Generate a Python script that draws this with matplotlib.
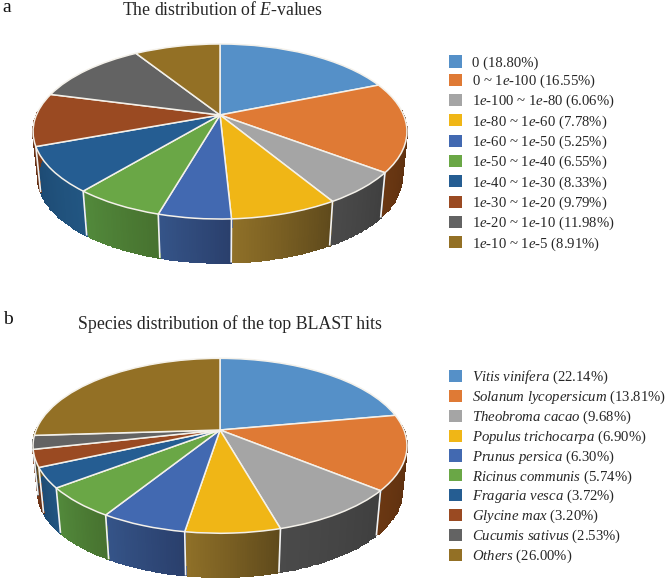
"""Two perspective 3D pie charts: E-value and species distribution of BLAST hits."""

import numpy as np
import matplotlib
matplotlib.use("Agg")
import matplotlib.pyplot as plt
from matplotlib.patches import Patch
from matplotlib.transforms import Transform

plt.rcParams['font.family'] = ['Liberation Serif', 'DejaVu Serif']
plt.rcParams['mathtext.fontset'] = 'custom'
plt.rcParams['mathtext.rm'] = 'Liberation Serif'
plt.rcParams['mathtext.it'] = 'Liberation Serif:italic'

evalue_labels = ['0', r'0 ~ 1$\mathit{e}$-100', r'1$\mathit{e}$-100 ~ 1$\mathit{e}$-80',
                 r'1$\mathit{e}$-80 ~ 1$\mathit{e}$-60', r'1$\mathit{e}$-60 ~ 1$\mathit{e}$-50',
                 r'1$\mathit{e}$-50 ~ 1$\mathit{e}$-40', r'1$\mathit{e}$-40 ~ 1$\mathit{e}$-30',
                 r'1$\mathit{e}$-30 ~ 1$\mathit{e}$-20', r'1$\mathit{e}$-20 ~ 1$\mathit{e}$-10',
                 r'1$\mathit{e}$-10 ~ 1$\mathit{e}$-5']
evalue_values = [18.80, 16.55, 6.06, 7.78, 5.25, 6.55, 8.33, 9.79, 11.98, 8.91]

species_labels = [r'$\mathit{Vitis\ vinifera}$', r'$\mathit{Solanum\ lycopersicum}$',
                  r'$\mathit{Theobroma\ cacao}$', r'$\mathit{Populus\ trichocarpa}$',
                  r'$\mathit{Prunus\ persica}$', r'$\mathit{Ricinus\ communis}$',
                  r'$\mathit{Fragaria\ vesca}$', r'$\mathit{Glycine\ max}$',
                  r'$\mathit{Cucumis\ sativus}$', r'$\mathit{Others}$']
species_values = [22.14, 13.81, 9.68, 6.90, 6.30, 5.74, 3.72, 3.20, 2.53, 26.00]

top_colors = ['#5590c8', '#df7a35', '#a5a5a5', '#f0b616', '#4269b1',
              '#6aa746', '#255d92', '#9a4a22', '#636363', '#937025']
wall_left = ['#3a6690', '#6a3712', '#4a4a4a', '#8f7028', '#355488',
             '#52893b', '#1d4a73', '#7a3a1a', '#404040', '#6a5220']
wall_right = ['#3a6690', '#552c0e', '#3f3f3f', '#5f4a1c', '#2a3f6c',
              '#47722f', '#225682', '#5e2e15', '#404040', '#6a5220']

# shrink of the lower rim towards the vanishing point below the pie
RIM_SHRINK = 0.974
VANISH_DROP = 1785


class PiePerspective(Transform):
    """Unit circle (y up) to figure pixels, far side squeezed."""
    input_dims = 2
    output_dims = 2

    def __init__(self, cx, cy, rx, ry, persp):
        super().__init__()
        self.cx, self.cy, self.rx, self.ry, self.persp = cx, cy, rx, ry, persp

    def transform_non_affine(self, values):
        x, y = values[:, 0], values[:, 1]
        w = 1 + self.persp * y
        return np.column_stack([self.cx + self.rx * x / w, self.cy - self.ry * y / w])


def draw_pie(ax, values, cx, cy, rx, ry, persp):
    proj = PiePerspective(cx, cy, rx, ry, persp)
    vanish_y = cy + VANISH_DROP
    fractions = np.array(values) / np.sum(values)
    edges = np.concatenate([[0], np.cumsum(fractions)]) * 2 * np.pi

    def rims(t):
        top = proj.transform_non_affine(np.column_stack([np.sin(t), np.cos(t)]))
        low = top.copy()
        low[:, 0] = cx + RIM_SHRINK * (top[:, 0] - cx)
        low[:, 1] = vanish_y + RIM_SHRINK * (top[:, 1] - vanish_y)
        return top, low

    # side walls, only the front part shows
    for i in range(len(values)):
        t = np.linspace(edges[i], edges[i + 1], 40)
        t = t[np.cos(t) < 0.05]
        if len(t) < 2:
            continue
        top, low = rims(t)
        X = np.vstack([top[:, 0], low[:, 0]])
        Y = np.vstack([top[:, 1], low[:, 1]])
        c0 = np.array(matplotlib.colors.to_rgb(wall_left[i]))
        c1 = np.array(matplotlib.colors.to_rgb(wall_right[i]))
        mix = np.linspace(0, 1, len(t) - 1)[:, None]
        # t runs right to left along the front, so the left colour comes last
        rgb = (c1 * (1 - mix) + c0 * mix)[None, :, :]
        ax.pcolormesh(X, Y, rgb, shading='flat', edgecolors='face', linewidth=0.3, zorder=2)

    # white seams on the walls
    for e in edges[1:-1]:
        if np.cos(e) < -persp:
            top, low = rims(np.array([e]))
            ax.plot([top[0, 0], low[0, 0]], [top[0, 1], low[0, 1]], color='#f2f2f2',
                    lw=1.2, zorder=2.5, solid_capstyle='butt')

    wedges, _ = ax.pie(values, colors=top_colors, startangle=90, counterclock=False,
                       normalize=True, wedgeprops=dict(edgecolor='#f4f1ea', linewidth=1.1))
    for w in wedges:
        w.set_transform(proj + ax.transData)
        w.set_zorder(3)
        w.set_clip_on(False)


def draw_legend(fig, labels, values, top_y, spacing):
    handles = [Patch(facecolor=c, edgecolor='none') for c in top_colors]
    texts = [f'{l} ({v:.2f}%)' for l, v in zip(labels, values)]
    fig.legend(handles, texts, loc='upper left', bbox_to_anchor=(449 / 666, 1 - top_y / 579),
               frameon=False, borderpad=0, borderaxespad=0, fontsize=10.65,
               handlelength=0.88, handleheight=0.88, handletextpad=0.68,
               labelspacing=spacing, labelcolor='#262626')


fig = plt.figure(figsize=(6.66, 5.79), dpi=100)
ax = fig.add_axes([0, 0, 1, 1])

draw_pie(ax, evalue_values, 220, 115, 183.6, 84.4, 0.1886)
draw_pie(ax, species_values, 220, 430, 183.9, 84.6, 0.1807)

ax.set_aspect('auto')
ax.set_xlim(0, 666)
ax.set_ylim(579, 0)
ax.axis('off')

ax.text(222, 10, r'The distribution of $\mathit{E}$-values', ha='center', va='center',
        fontsize=12.8, color='#262626')
ax.text(230, 324, 'Species distribution of the top BLAST hits', ha='center', va='center',
        fontsize=12.8, color='#262626')
ax.text(2, 7, 'a', ha='left', va='center', fontsize=14, color='#111111')
ax.text(3, 320, 'b', ha='left', va='center', fontsize=14, color='#111111')

draw_legend(fig, evalue_labels, evalue_values, 55.5, 0.2)
draw_legend(fig, species_labels, species_values, 369, 0.17)

fig.savefig('out.png', dpi=100, facecolor='white')
